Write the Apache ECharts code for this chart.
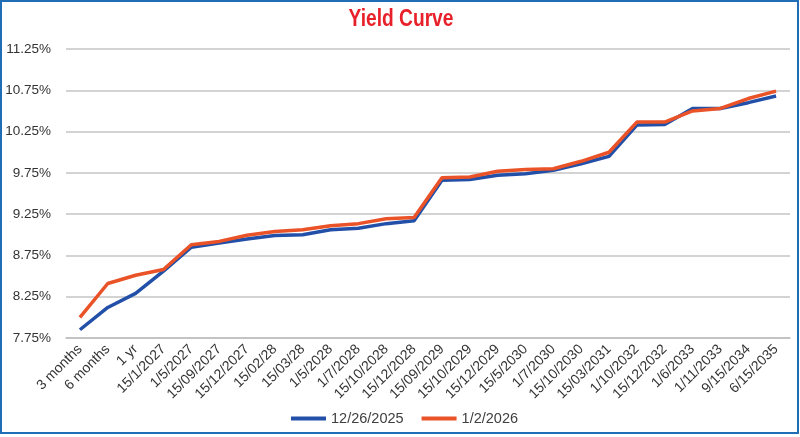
<!DOCTYPE html>
<html>
<head>
<meta charset="utf-8">
<script src="https://cdn.jsdelivr.net/npm/echarts@6/dist/echarts.min.js"></script>
<style>
html,body{margin:0;padding:0;background:#fff;}
#chart{width:800px;height:437px;}
</style>
</head>
<body>
<div id="chart"></div>
<script>
const categories = ["3 months","6 months","1 yr","15/1/2027","1/5/2027","15/09/2027","15/12/2027","15/02/28","15/03/28","1/5/2028","1/7/2028","15/10/2028","15/12/2028","15/09/2029","15/10/2029","15/12/2029","15/5/2030","1/7/2030","15/10/2030","15/03/2031","1/10/2032","15/12/2032","1/6/2033","1/11/2033","9/15/2034","6/15/2035"];
const series1Name = "12/26/2025";
const series1 = [7.85,8.12,8.29,8.56,8.85,8.90,8.95,8.99,9.00,9.06,9.08,9.135,9.17,9.66,9.67,9.72,9.74,9.78,9.86,9.95,10.33,10.335,10.53,10.53,10.60,10.68];
const series2Name = "1/2/2026";
const series2 = [8.00,8.41,8.51,8.58,8.88,8.92,8.995,9.04,9.06,9.11,9.135,9.195,9.21,9.69,9.70,9.77,9.79,9.80,9.89,10.00,10.365,10.365,10.50,10.53,10.65,10.74];
const yTicks = [7.75,8.25,8.75,9.25,9.75,10.25,10.75,11.25];
const titleText = 'Yield Curve';

const chart = echarts.init(document.getElementById('chart'), null, {renderer:'canvas'});
chart.setOption({
  backgroundColor:'#ffffff',
  animation:false,
  graphic:[
    {
      type:'rect',
      shape:{x:1,y:1,width:797,height:432},
      style:{fill:'none',stroke:'#1F6DB5',lineWidth:2}
    },
    {
      type:'text',
      x:401, y:19,
      scaleX:0.8,
      style:{text:titleText,fill:'#E8202A',font:'bold 24px "Liberation Sans", sans-serif',textAlign:'center',textVerticalAlign:'middle'}
    }
  ],
  legend:{
    bottom:6,
    left:286,
    itemWidth:35,
    itemHeight:4,
    itemGap:18,
    icon:'rect',
    textStyle:{color:'#404040',fontFamily:'Liberation Sans',fontSize:14.5},
    data:[series1Name,series2Name]
  },
  grid:{left:66,right:10,top:49,bottom:99,containLabel:false},
  xAxis:{
    type:'category',
    data:categories,
    boundaryGap:true,
    axisLine:{show:true,lineStyle:{color:'#BFBFBF',width:1.5}},
    axisTick:{show:false},
    axisLabel:{rotate:45,interval:0,margin:9,color:'#333333',fontFamily:'Liberation Sans',fontSize:14}
  },
  yAxis:{
    type:'value',
    min:yTicks[0],
    max:yTicks[yTicks.length-1],
    interval:0.5,
    axisLine:{show:false},
    axisTick:{show:false},
    splitLine:{lineStyle:{color:'#C4C4C4',width:1.5}},
    axisLabel:{margin:15,color:'#333333',fontFamily:'Liberation Sans',fontSize:13.5,formatter:v=>v.toFixed(2)+'%'}
  },
  series:[
    {name:series1Name,type:'line',data:series1,symbol:'none',lineStyle:{color:'#2250A8',width:3.5},itemStyle:{color:'#2250A8'}},
    {name:series2Name,type:'line',data:series2,symbol:'none',lineStyle:{color:'#EA5228',width:3.5},itemStyle:{color:'#EA5228'}}
  ]
});
</script>
</body>
</html>
